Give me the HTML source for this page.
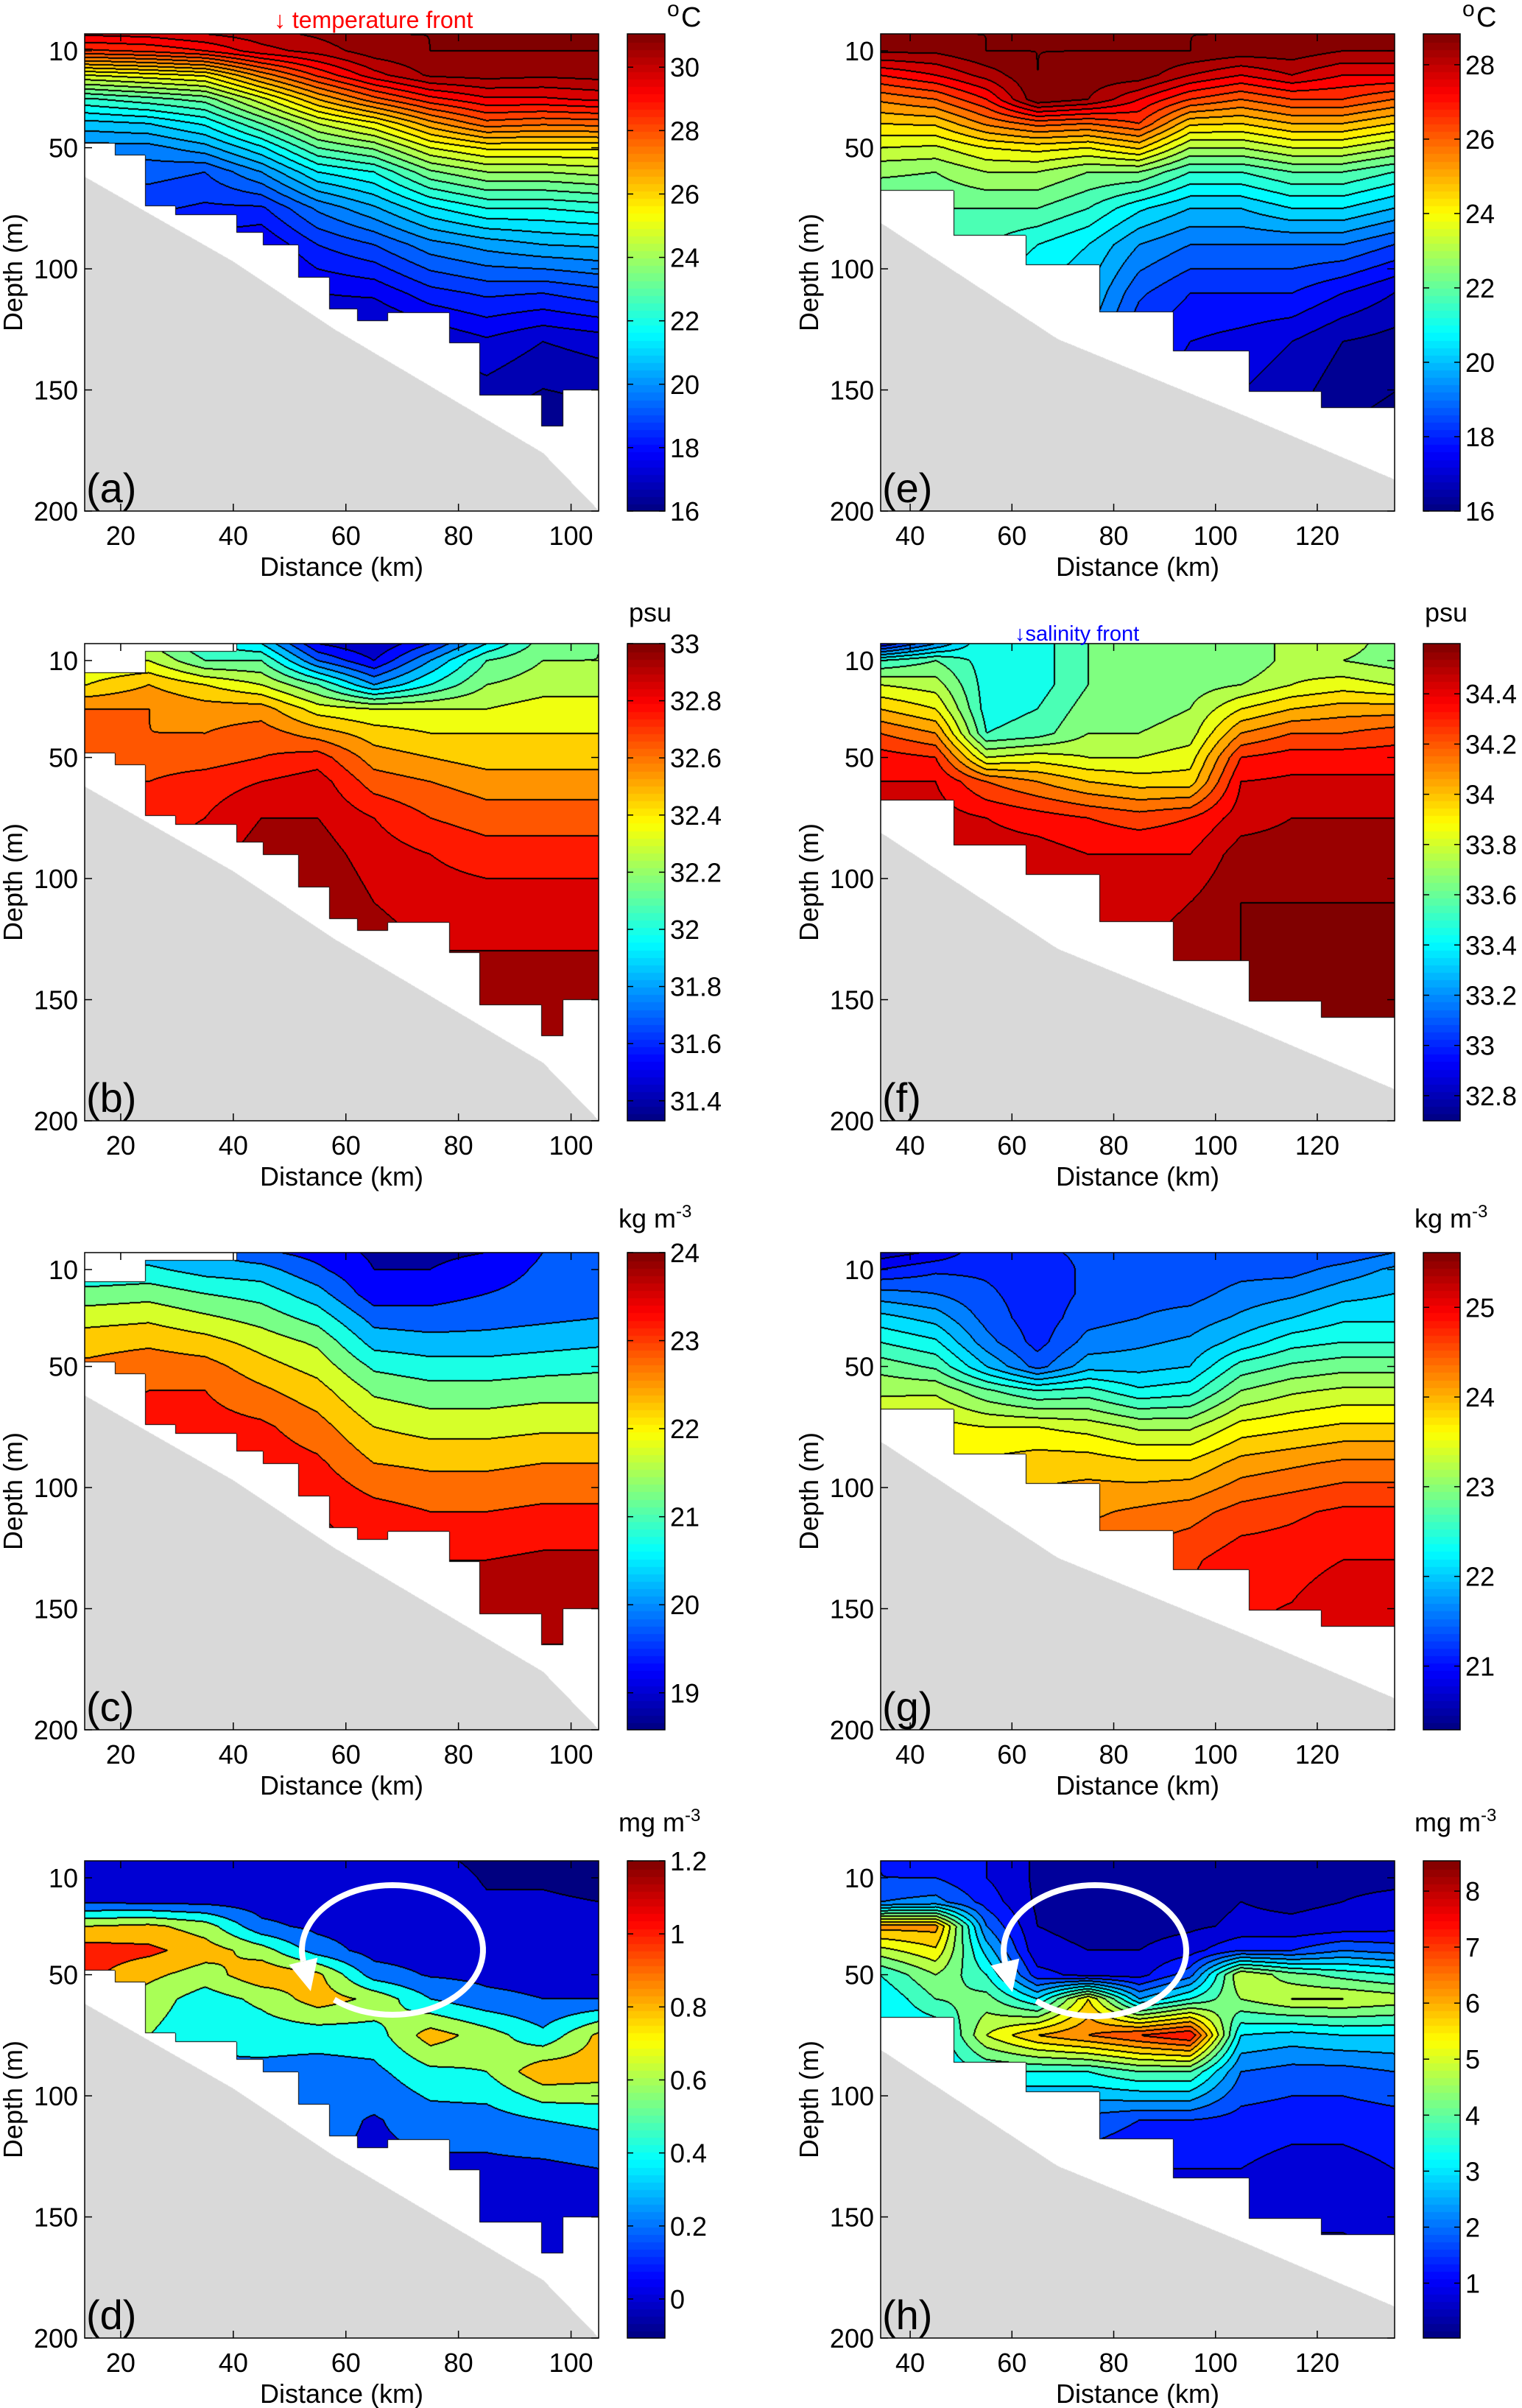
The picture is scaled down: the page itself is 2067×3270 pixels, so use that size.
<!DOCTYPE html>
<html><head><meta charset="utf-8">
<style>
body{margin:0;width:2067px;height:3270px;background:#fff;position:relative;overflow:hidden;font-family:"Liberation Sans",Arial,sans-serif;}
canvas{position:absolute;}
#ov{position:absolute;left:0;top:0;}
</style></head>
<body>
<svg id="ov" width="2067" height="3270" xmlns="http://www.w3.org/2000/svg"></svg>
<script>
// ---------------- data ----------------
const depthLevels=[3,10,20,30,40,50,60,75,90,110,130,165];
const kmLeft=[14,25,35,45,55,65,75,85,95,105];
const kmRight=[34,45,55,65,75,85,95,105,115,125,135];

const tempA=[
[29.6,28.4,25.0,22.4,20.8,19.8,19.2,18.6,18.0,17.5,17.0,16.5],
[29.7,28.6,25.3,22.8,21.0,19.8,19.2,18.6,18.0,17.5,17.0,16.5],
[30.0,29.0,25.6,23.2,21.6,20.3,19.0,18.4,17.8,17.3,16.9,16.5],
[30.3,29.8,27.2,24.8,23.0,21.4,20.0,18.4,17.5,17.0,16.5,16.0],
[30.6,30.2,28.6,26.5,24.5,23.0,21.5,19.6,18.5,17.5,16.8,16.2],
[31.0,30.8,29.8,27.8,25.4,23.6,22.0,20.4,19.0,17.6,16.6,16.0],
[31.0,31.0,30.6,28.8,26.8,25.0,23.4,21.4,19.8,18.3,17.0,16.3],
[31.0,31.0,30.7,29.4,27.8,25.6,24.0,22.0,20.2,18.6,17.4,16.4],
[31.0,31.0,30.6,29.4,27.6,25.6,24.0,22.0,20.5,18.5,17.0,16.1],
[31.0,31.0,30.7,29.6,27.7,25.6,24.2,22.2,20.6,18.8,17.2,16.2]];
const salB=[
[32.3,32.3,32.4,32.6,32.6,32.65,32.7,32.7,32.75,32.8,32.8,32.8],
[32.2,32.3,32.5,32.6,32.6,32.65,32.7,32.75,32.8,32.85,32.9,32.9],
[32.0,32.1,32.4,32.55,32.6,32.65,32.75,32.8,32.85,32.9,32.9,32.95],
[31.9,32.1,32.3,32.55,32.65,32.7,32.8,32.9,32.95,32.95,33.0,33.0],
[31.5,31.7,32.1,32.35,32.55,32.75,32.85,32.9,32.95,33.0,33.0,33.0],
[31.4,31.5,31.8,32.3,32.45,32.55,32.65,32.8,32.85,32.9,32.95,33.0],
[31.6,31.8,32.0,32.3,32.4,32.5,32.6,32.7,32.8,32.85,32.9,33.0],
[31.9,32.1,32.2,32.3,32.4,32.45,32.55,32.65,32.75,32.85,32.9,32.95],
[32.15,32.2,32.25,32.35,32.4,32.45,32.55,32.65,32.75,32.85,32.9,32.95],
[32.2,32.2,32.25,32.35,32.4,32.45,32.55,32.65,32.75,32.85,32.9,32.95]];
const densC=[
[20.3,20.5,21.2,21.8,22.3,22.6,22.8,23.0,23.2,23.4,23.6,23.8],
[20.2,20.6,21.3,21.9,22.4,22.8,23.0,23.2,23.4,23.6,23.8,23.9],
[20.0,20.3,21.0,21.6,22.2,22.7,23.0,23.2,23.4,23.6,23.8,23.9],
[19.6,20.2,20.8,21.3,21.8,22.2,22.6,23.1,23.3,23.6,23.8,23.9],
[19.3,19.6,20.2,20.8,21.4,21.8,22.2,22.7,23.1,23.5,23.7,23.9],
[18.9,19.0,19.2,19.8,20.3,20.9,21.4,22.0,22.5,23.2,23.6,23.9],
[18.9,19.0,19.3,19.7,20.2,20.7,21.2,21.8,22.4,23.0,23.5,23.9],
[19.0,19.2,19.5,19.8,20.2,20.7,21.2,21.8,22.4,23.0,23.5,23.9],
[19.5,19.6,19.7,19.9,20.3,20.8,21.3,21.9,22.5,23.1,23.6,24.0],
[19.6,19.7,19.8,20.0,20.4,20.9,21.3,21.9,22.5,23.1,23.6,24.0]];
const chlD=[
[0.0,0.0,0.08,0.7,1.0,0.95,0.8,0.7,0.6,0.5,0.4,0.3],
[0.0,0.0,0.06,0.75,0.95,0.75,0.6,0.5,0.45,0.4,0.3,0.2],
[0.0,0.0,0.05,0.6,0.8,0.6,0.4,0.35,0.25,0.2,0.1,0.05],
[0.0,0.0,0.0,0.15,0.6,0.85,0.55,0.38,0.25,0.2,0.15,0.1],
[0.0,0.0,0.0,0.05,0.2,0.75,0.8,0.38,0.22,0.18,0.12,0.08],
[0.0,0.0,0.0,0.0,0.02,0.2,0.65,0.4,0.25,0.08,0.05,0.02],
[-0.05,0.0,0.0,0.0,0.0,0.08,0.3,0.8,0.45,0.2,0.05,0.02],
[-0.15,-0.12,-0.08,0.0,0.0,0.05,0.15,0.6,0.5,0.2,0.05,-0.05],
[-0.15,-0.12,-0.08,-0.02,0.0,0.03,0.1,0.35,0.85,0.3,0.05,-0.1],
[-0.2,-0.15,-0.1,-0.05,0.0,0.03,0.1,0.75,0.8,0.35,0.1,-0.1]];
const tempE=[
[29.0,28.6,27.0,25.6,24.5,23.5,22.6,22.0,21.5,21.0,20.0,19.0],
[29.0,28.6,27.5,26.0,24.6,23.4,22.5,22.0,21.5,21.0,20.0,19.0],
[29.0,29.0,28.2,27.0,25.6,24.0,23.0,22.0,21.5,21.0,20.0,19.0],
[29.0,29.0,29.0,28.9,26.2,24.2,23.0,22.0,21.0,20.5,20.0,19.0],
[29.0,29.0,28.8,28.5,26.0,24.0,22.5,21.5,20.5,20.0,19.5,19.0],
[29.0,29.0,28.8,27.5,26.5,24.6,22.5,20.6,19.5,18.6,18.0,17.5],
[29.0,29.0,28.0,26.5,24.6,23.0,21.5,20.0,19.0,18.0,17.5,17.0],
[29.0,28.8,27.5,26.0,24.5,23.0,21.5,20.0,19.0,18.0,17.3,16.8],
[29.0,28.8,28.0,26.5,25.0,23.5,22.0,20.5,19.0,18.0,17.0,16.5],
[29.0,28.5,27.5,26.5,25.0,23.5,22.0,20.5,19.0,17.5,16.5,16.0],
[29.0,28.5,27.5,26.0,24.5,23.0,21.5,20.0,18.5,17.0,16.3,15.8]];
const salF=[
[32.9,33.5,33.8,34.0,34.2,34.35,34.4,34.45,34.5,34.5,34.55,34.55],
[33.2,33.6,33.75,33.9,34.1,34.3,34.4,34.45,34.5,34.5,34.55,34.55],
[33.5,33.45,33.45,33.45,33.5,33.8,34.2,34.4,34.45,34.5,34.5,34.55],
[33.45,33.45,33.45,33.5,33.55,33.85,34.1,34.35,34.45,34.5,34.5,34.55],
[33.6,33.6,33.6,33.65,33.7,33.8,34.0,34.3,34.4,34.45,34.5,34.5],
[33.6,33.6,33.62,33.65,33.7,33.8,33.95,34.25,34.4,34.45,34.5,34.55],
[33.6,33.6,33.65,33.7,33.75,33.85,33.95,34.3,34.4,34.5,34.55,34.6],
[33.6,33.6,33.7,33.9,34.1,34.3,34.4,34.45,34.55,34.6,34.6,34.6],
[33.75,33.75,33.8,34.0,34.2,34.35,34.42,34.5,34.55,34.6,34.6,34.6],
[33.75,33.7,33.85,34.05,34.2,34.35,34.42,34.5,34.55,34.6,34.6,34.6],
[33.65,33.65,33.8,34.05,34.25,34.35,34.42,34.5,34.55,34.6,34.6,34.6]];
const densG=[
[20.6,21.0,21.6,22.1,22.5,22.9,23.2,23.5,23.7,24.0,24.3,24.6],
[20.8,21.2,21.5,21.9,22.3,22.7,23.2,23.6,23.8,24.1,24.4,24.6],
[21.2,21.2,21.3,21.4,21.6,22.0,22.8,23.5,23.8,24.0,24.3,24.6],
[21.2,21.1,21.1,21.1,21.15,21.4,22.5,23.5,23.9,24.1,24.4,24.6],
[21.3,21.3,21.3,21.4,21.6,21.9,22.6,23.4,23.9,24.2,24.4,24.7],
[21.3,21.3,21.4,21.5,21.7,21.9,22.3,23.2,23.8,24.3,24.6,24.8],
[21.3,21.3,21.4,21.6,21.8,22.0,22.4,23.2,23.8,24.4,24.7,24.9],
[21.3,21.4,21.6,21.8,22.1,22.6,23.0,23.6,24.1,24.6,24.9,25.0],
[21.3,21.4,21.7,22.0,22.4,22.8,23.2,23.7,24.2,24.7,24.9,25.1],
[21.3,21.6,21.9,22.2,22.5,22.9,23.3,23.8,24.3,24.8,25.0,25.3],
[21.5,21.8,22.0,22.2,22.5,22.9,23.3,23.8,24.3,24.8,25.0,25.3]];
const chlH=[
[1.5,1.5,2.0,6.2,4.8,3.5,3.0,3.0,3.0,3.0,3.0,3.0],
[1.3,1.5,2.2,6.2,5.4,4.5,4.0,3.0,3.0,3.0,3.0,3.0],
[1.0,1.0,1.3,2.0,2.8,3.5,4.2,5.0,3.5,2.0,1.5,1.0],
[0.4,0.4,0.4,0.5,0.6,1.2,3.0,6.0,3.5,1.8,1.2,1.0],
[0.3,0.3,0.3,0.4,0.5,0.8,5.5,6.5,3.5,1.8,1.2,0.8],
[0.3,0.3,0.3,0.3,0.5,0.8,2.5,7.0,4.0,1.5,1.0,0.5],
[0.3,0.3,0.3,0.4,0.8,1.8,3.5,7.5,4.0,1.5,1.0,0.5],
[0.4,0.4,0.5,0.6,1.5,5.0,4.5,3.0,2.0,1.3,1.0,0.5],
[0.4,0.4,0.4,0.6,1.5,4.2,5.0,2.8,1.8,1.2,0.8,0.4],
[0.4,0.4,0.5,0.7,2.0,3.8,5.0,3.0,1.8,1.2,0.8,0.4],
[0.4,0.4,0.6,0.8,1.8,3.5,4.8,3.0,2.0,1.3,1.0,0.5]];

const stationEdgesL=[13.6,18.9,24.3,29.7,40.5,45.3,51.5,57.0,62.0,67.5,78.3,83.7,94.7,98.6,104.9];
const stationDepthsL=[48.3,53.3,74.2,77.9,85,90.4,103.6,116.8,121.7,118.1,130.7,152.4,165,150];
const stationEdgesR=[34.2,48.5,62.7,77.2,91.7,106.5,120.7,135.2];
const stationDepthsR=[67.7,86.2,98.6,118,134.1,150.8,157.5];
const bathyKmL=[13.6,40,58,95,105];
const bathyDepthL=[62,97,125,176,200];
const bathyKmR=[34.2,69,105,135.2];
const bathyDepthR=[81,129,160,187];

const xTicksL=[20,40,60,80,100];
const xTicksR=[40,60,80,100,120];
const yTicks=[10,50,100,150,200];
const cbTicksA=[16,18,20,22,24,26,28,30];
const cbTicksE=[16,18,20,22,24,26,28];
const cbTicksB=["31.4","31.6","31.8","32","32.2","32.4","32.6","32.8","33"];
const cbTicksF=["32.8","33","33.2","33.4","33.6","33.8","34","34.2","34.4"];
const cbTicksC=[19,20,21,22,23,24];
const cbTicksG=[21,22,23,24,25];
const cbTicksD=["0","0.2","0.4","0.6","0.8","1","1.2"];
const cbTicksH=[1,2,3,4,5,6,7,8];

// ---------------- layout ----------------
const H=648, DMIN=3, DMAX=200;
const rowTops=[46,874,1701,2527];
const L={x0:115,x1:813,kmin:13.6,kmax:104.9,cb0:852,cb1:903,xt:xTicksL,kms:kmLeft,se:stationEdgesL,sd:stationDepthsL,bk:bathyKmL,bd:bathyDepthL};
const R={x0:1196,x1:1894,kmin:34.2,kmax:135.2,cb0:1933,cb1:1983,xt:xTicksR,kms:kmRight,se:stationEdgesR,sd:stationDepthsR,bk:bathyKmR,bd:bathyDepthR};
const panels=[
{id:'a',c:L,r:0,v:tempA,vmin:16,vmax:31.05,step:0.5,off:0,cbt:cbTicksA,unit:'degC',mask:false},
{id:'b',c:L,r:1,v:salB,vmin:31.33,vmax:33.0,step:0.1,off:0,cbt:cbTicksB,unit:'psu',mask:true},
{id:'c',c:L,r:2,v:densC,vmin:18.58,vmax:24.0,step:0.5,off:0,cbt:cbTicksC,unit:'kg',mask:true},
{id:'d',c:L,r:3,v:chlD,vmin:-0.107,vmax:1.2,step:0.2,off:-0.1,cbt:cbTicksD,unit:'mg',mask:false},
{id:'e',c:R,r:0,v:tempE,vmin:16,vmax:28.83,step:0.5,off:0,cbt:cbTicksE,unit:'degC',mask:false},
{id:'f',c:R,r:1,v:salF,vmin:32.7,vmax:34.6,step:0.1,off:0,cbt:cbTicksF,unit:'psu',mask:false},
{id:'g',c:R,r:2,v:densG,vmin:20.29,vmax:25.61,step:0.25,off:0,cbt:cbTicksG,unit:'kg',mask:false},
{id:'h',c:R,r:3,v:chlH,vmin:0.02,vmax:8.54,step:0.5,off:0,cbt:cbTicksH,unit:'mg',mask:false}];

const NS='http://www.w3.org/2000/svg';
const ov=document.getElementById('ov');
function cl(x){return Math.max(0,Math.min(1,x));}
function jet(t){t=cl(t);return [255*cl(1.5-Math.abs(4*t-3)),255*cl(1.5-Math.abs(4*t-2)),255*cl(1.5-Math.abs(4*t-1))];}
function lin(xa,ya,x){if(x<=xa[0])return ya[0];for(let i=0;i<xa.length-1;i++){if(x<=xa[i+1]){const t=(x-xa[i])/(xa[i+1]-xa[i]);return ya[i]+t*(ya[i+1]-ya[i]);}}return ya[ya.length-1];}
function stepD(e,d,km){for(let i=0;i<d.length;i++){if(km<e[i+1])return d[i];}return d[d.length-1];}
function idx(arr,x){if(x<=arr[0])return [0,0];if(x>=arr[arr.length-1])return [arr.length-2,1];for(let i=0;i<arr.length-1;i++){if(x<=arr[i+1])return [i,(x-arr[i])/(arr[i+1]-arr[i])];}}
function interp(cols,xs,km,d){const [i,tx]=idx(xs,km);const [j,ty]=idx(depthLevels,d);
 const a=cols[i][j]*(1-ty)+cols[i][j+1]*ty, b=cols[i+1][j]*(1-ty)+cols[i+1][j+1]*ty;return a*(1-tx)+b*tx;}
function yOf(d){return (d-DMIN)/(DMAX-DMIN)*H;}

function txt(str,x,y,size,anchor,name,color){const t=document.createElementNS(NS,'text');
 t.setAttribute('x',x);t.setAttribute('y',y);t.setAttribute('font-size',size);
 t.setAttribute('font-family','"Liberation Sans", Arial, sans-serif');
 t.setAttribute('text-anchor',anchor||'start');t.setAttribute('fill',color||'#000');
 
 
 t.textContent=str;ov.appendChild(t);return t;}
function line(x1,y1,x2,y2,w,name){const l=document.createElementNS(NS,'line');
 l.setAttribute('x1',x1);l.setAttribute('y1',y1);l.setAttribute('x2',x2);l.setAttribute('y2',y2);
 l.setAttribute('stroke','#000');l.setAttribute('stroke-width',w);
 
 
 ov.appendChild(l);}

panels.forEach(p=>{
 const c=p.c, top=rowTops[p.r], W=c.x1-c.x0;
 const cv=document.createElement('canvas');cv.width=W;cv.height=H;
 cv.style.left=c.x0+'px';cv.style.top=top+'px';
 
 
 document.body.insertBefore(cv,ov);
 const ctx=cv.getContext('2d');const img=ctx.createImageData(W,H);
 const lev=new Int32Array(W*H);
 for(let py=0;py<H;py++){const d=DMIN+(py+0.5)/H*(DMAX-DMIN);
  for(let px=0;px<W;px++){const km=c.kmin+(px+0.5)/W*(c.kmax-c.kmin);
   let L0;
   if(d>lin(c.bk,c.bd,km))L0=-2;
   else if(d>stepD(c.se,c.sd,km))L0=-1;
   else if(p.mask&&((km<24.3&&d<15)||(km<40.6&&d<6)))L0=-1;
   else{const v=interp(p.v,c.kms,km,d);L0=Math.floor((v-p.off)/p.step+0.003)+1000;}
   lev[py*W+px]=L0;}}
 for(let py=0;py<H;py++)for(let px=0;px<W;px++){const k=py*W+px,L0=lev[k];let col;
  if(L0===-2)col=[217,217,217];else if(L0===-1)col=[255,255,255];
  else{let edge=false;
   if(px>0&&lev[k-1]!==L0&&lev[k-1]!==-2)edge=true;
   if(px<W-1&&lev[k+1]!==L0&&lev[k+1]!==-2)edge=true;
   if(py>0&&lev[k-W]!==L0&&lev[k-W]!==-2)edge=true;
   if(py<H-1&&lev[k+W]!==L0&&lev[k+W]!==-2)edge=true;
   if(edge)col=[0,0,0];
   else{const center=p.off+(L0-1000+0.5)*p.step;col=jet((center-p.vmin)/(p.vmax-p.vmin));}}
  img.data[4*k]=col[0];img.data[4*k+1]=col[1];img.data[4*k+2]=col[2];img.data[4*k+3]=255;}
 ctx.putImageData(img,0,0);
 const cb=document.createElement('canvas');const cw=c.cb1-c.cb0;cb.width=cw;cb.height=H;
 cb.style.left=c.cb0+'px';cb.style.top=top+'px';
 
 
 document.body.insertBefore(cb,ov);
 const cx=cb.getContext('2d');
 for(let i=0;i<64;i++){const col=jet((i+0.5)/64);cx.fillStyle='rgb('+col.map(Math.round).join(',')+')';
  const y0=H-(i+1)*H/64;cx.fillRect(0,Math.floor(y0),cw,Math.ceil(H/64)+1);}
 const fr=document.createElementNS(NS,'rect');fr.setAttribute('x',c.x0);fr.setAttribute('y',top);
 fr.setAttribute('width',W);fr.setAttribute('height',H);fr.setAttribute('fill','none');fr.setAttribute('stroke','#000');fr.setAttribute('stroke-width',1.5);
 
 
 ov.appendChild(fr);
 const cf=document.createElementNS(NS,'rect');cf.setAttribute('x',c.cb0);cf.setAttribute('y',top);
 cf.setAttribute('width',cw);cf.setAttribute('height',H);cf.setAttribute('fill','none');cf.setAttribute('stroke','#000');cf.setAttribute('stroke-width',1.5);
 
 
 ov.appendChild(cf);
 c.xt.forEach(k=>{const x=c.x0+(k-c.kmin)/(c.kmax-c.kmin)*W;
  line(x,top+H,x,top+H-10,1.5,'x-tick');line(x,top,x,top+10,1.5,'x-tick-top');
  txt(String(k),x,top+H+46,36,'middle','x-tick-label');});
 txt('Distance (km)',(c.x0+c.x1)/2,top+H+88,36,'middle','x-axis-title');
 yTicks.forEach(d=>{const y=top+yOf(d);
  line(c.x0,y,c.x0+10,y,1.5,'y-tick');line(c.x1,y,c.x1-10,y,1.5,'y-tick-right');
  txt(String(d),c.x0-9,y+13,36,'end','y-tick-label');});
 const yt=txt('Depth (m)',0,0,36,'middle','y-axis-title');
 yt.setAttribute('transform','translate('+(c.x0-85)+','+(top+H/2)+') rotate(-90)');
 txt('('+p.id+')',c.x0+2,top+H-12,56,'start','panel-label-'+p.id);
 p.cbt.forEach(s=>{const v=parseFloat(s);const y=top+H-(v-p.vmin)/(p.vmax-p.vmin)*H;
  line(c.cb0,y,c.cb0+8,y,1.5,'colorbar-tick');line(c.cb1,y,c.cb1-8,y,1.5,'colorbar-tick-right');
  txt(String(s),c.cb1+7,y+13,36,'start','colorbar-tick-label');});
 if(p.unit==='degC'){txt('o',c.cb1+3,top-24,30,'start','colorbar-unit-degree');txt('C',c.cb1+22,top-10,38,'start','colorbar-unit');}
 else if(p.unit==='psu'){txt('psu',c.cb0+2,top-30,36,'start','colorbar-unit');}
 else{const u=txt(p.unit==='kg'?'kg m':'mg m',c.cb0-12,top-(p.unit==='kg'?34:40),36,'start','colorbar-unit');
  const ts=document.createElementNS(NS,'tspan');ts.setAttribute('dy','-14');ts.setAttribute('font-size','24');ts.textContent='-3';u.appendChild(ts);}
});

txt('\u2193 temperature front',372,38,32,'start','temperature-front-label','#ff0000');
txt('\u2193salinity front',1378,870,29,'start','salinity-front-label','#0000ff');

function eddy(cx,cy,rx,ry,name){
 const a0=130*Math.PI/180, a1=(170-360)*Math.PI/180;
 let d='';const n=80;
 for(let i=0;i<=n;i++){const a=a0+(a1-a0)*i/n;const x=cx+rx*Math.cos(a),y=cy+ry*Math.sin(a);d+=(i?'L':'M')+x.toFixed(1)+' '+y.toFixed(1);}
 const pth=document.createElementNS(NS,'path');pth.setAttribute('d',d);pth.setAttribute('fill','none');
 pth.setAttribute('stroke','#fff');pth.setAttribute('stroke-width',8);
 
 
 ov.appendChild(pth);
 const ae=a1, bx=cx+rx*Math.cos(ae), by=cy+ry*Math.sin(ae);
 let tx=rx*Math.sin(ae), ty=-ry*Math.cos(ae);const tl=Math.hypot(tx,ty);tx/=tl;ty/=tl;
 const nx=-ty,ny=tx,len=42,hw=20;
 const tri=document.createElementNS(NS,'polygon');
 tri.setAttribute('points',[(bx+tx*len)+','+(by+ty*len),(bx+nx*hw)+','+(by+ny*hw),(bx-nx*hw)+','+(by-ny*hw)].join(' '));
 tri.setAttribute('fill','#fff');
 
 
 ov.appendChild(tri);
}
eddy(533,2648,123,88,'eddy-d');
eddy(1487,2649,124,89,'eddy-h');
</script>
</body></html>
